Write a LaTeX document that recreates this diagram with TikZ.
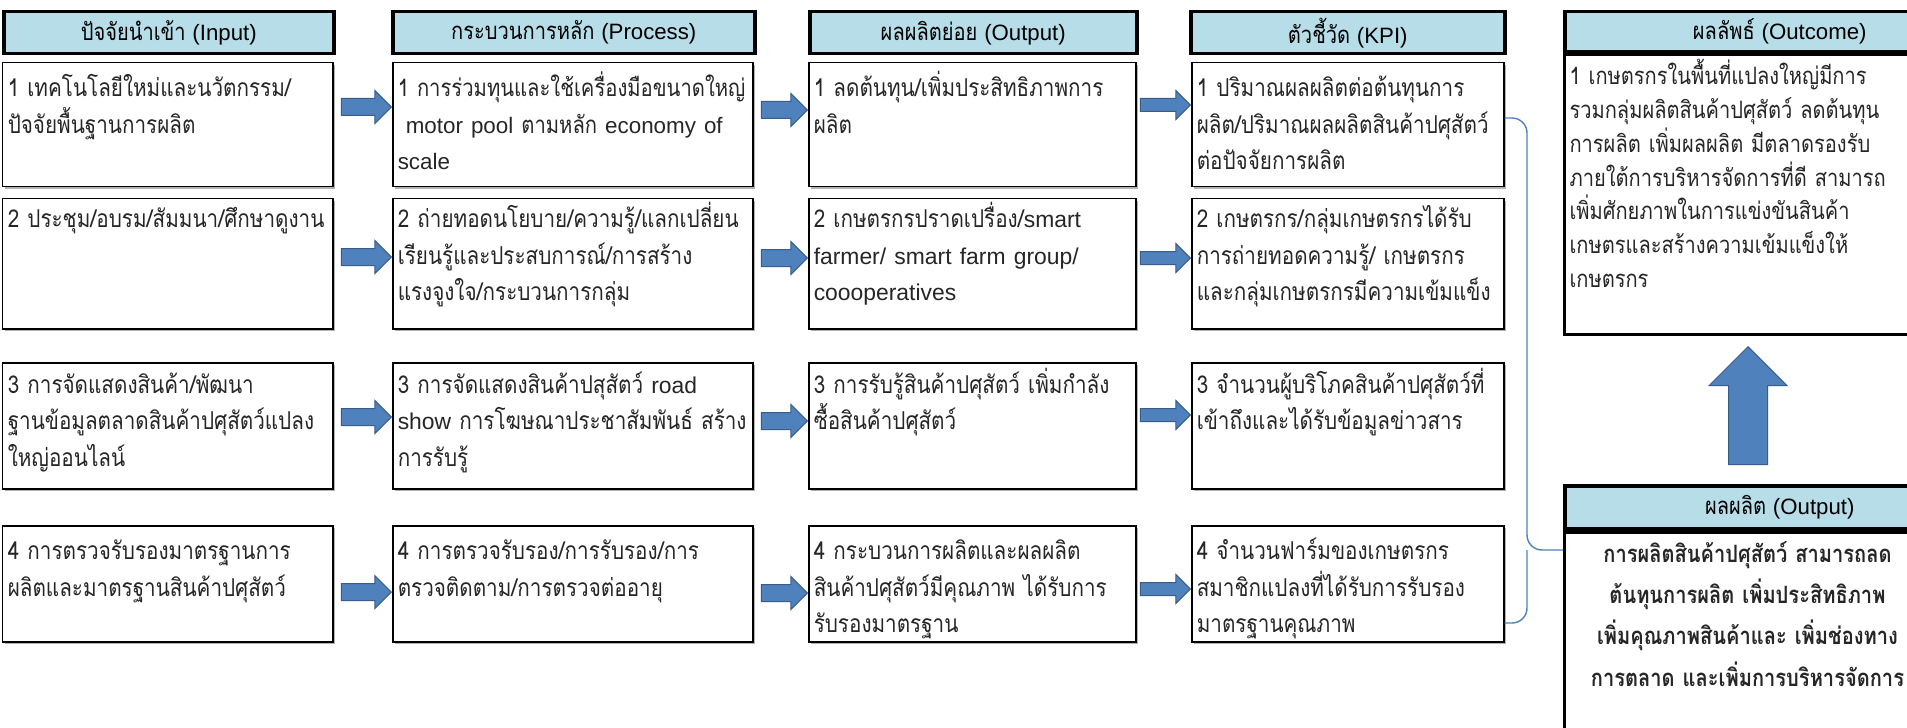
\documentclass[tikz,border=0pt]{standalone}
\usepackage{fontspec}
\setmainfont[Script=Thai, FakeStretch=0.84]{Loma}
\newfontfamily\engfont[Scale=0.93]{Liberation Sans}
\newcommand{\engtxt}[1]{{\engfont #1}}
\hyphenpenalty=10000
\exhyphenpenalty=10000
\usetikzlibrary{shapes.arrows,shadows}

\definecolor{hdrblue}{HTML}{B7DDE8}
\definecolor{arrfill}{HTML}{4F81BD}
\definecolor{arrline}{HTML}{385D8A}
\definecolor{bracecol}{HTML}{4F81BD}

\tikzset{
  hdr/.style={draw, line width=0.35mm, fill=hdrblue, anchor=north west,
    minimum height=4.2mm, inner sep=0pt, text=black,
    font=\fontsize{6.8}{8}\selectfont},
  box/.style 2 args={draw, line width=0.15mm, fill=white, anchor=north west,
    align=left, inner xsep=0.5mm, inner ysep=0.3mm, text height=#1,
    text depth=#2, text=black!85, font=\fontsize{7}{10.4}\selectfont,
    drop shadow={shadow xshift=0.2mm, shadow yshift=-0.2mm, opacity=0.6}},
  obox/.style={draw, line width=0.3mm, fill=white, anchor=north west,
    inner xsep=0.5mm, inner ysep=0.3mm, text height=2.7mm, text=black!85},
  barrow/.style={single arrow, draw=arrline, fill=arrfill, line width=0.1mm,
    inner xsep=0pt, inner ysep=#1, single arrow head extend=0.8mm,
    anchor=tip},
  bline/.style={draw=bracecol, line width=0.14mm, rounded corners=1.5mm},
}

\begin{document}
\begin{tikzpicture}[x=0.1mm, y=-0.1mm]
    \path[use as bounding box, fill=white] (0,0) rectangle (1907,727);

    % Column headers
    \node[hdr, minimum width=33mm] (inH) at (2,10) {ปัจจัยนำเข้า \engtxt{(Input)}};
    \node[hdr, minimum width=36.2mm] (prH) at (391,10) {กระบวนการหลัก \engtxt{(Process)}};
    \node[hdr, minimum width=32.7mm] (ouH) at (808,10) {ผลผลิตย่อย \engtxt{(Output)}};
    \node[hdr, minimum width=31.4mm] (kpH) at (1189,10) {ตัวชี้วัด \engtxt{(KPI)}};

    % Row 1
    \node[box={3.1mm}{8.7mm}, text width=32mm] (in1) at (2,62)
      {1~เทคโนโลยีใหม่และนวัตกรรม/\\ปัจจัยพื้นฐานการผลิต};
    \node[box={3.1mm}{8.7mm}, text width=35mm, font=\fontsize{6.85}{10.4}\selectfont] (pr1) at (392,62)
      {1~การร่วมทุนและใช้เครื่องมือขนาดใหญ่\\\ \engtxt{motor~pool}~ตามหลัก~\engtxt{economy~of}\\\engtxt{scale}};
    \node[box={3.1mm}{8.7mm}, text width=31.7mm] (ou1) at (808,62)
      {1~ลดต้นทุน/เพิ่มประสิทธิภาพการ\\ผลิต};
    \node[box={3.1mm}{8.7mm}, text width=30.2mm] (kp1) at (1191,62)
      {1~ปริมาณผลผลิตต่อต้นทุนการ\\ผลิต/ปริมาณผลผลิตสินค้าปศุสัตว์\\ต่อปัจจัยการผลิต};

    % Row 2
    \node[box={2.6mm}{9.8mm}, text width=32mm] (in2) at (2,198)
      {2~ประชุม/อบรม/สัมมนา/ศึกษาดูงาน};
    \node[box={2.6mm}{9.8mm}, text width=35mm] (pr2) at (392,198)
      {2~ถ่ายทอดนโยบาย/ความรู้/แลกเปลี่ยน\\เรียนรู้และประสบการณ์/การสร้าง\\แรงจูงใจ/กระบวนการกลุ่ม};
    \node[box={2.6mm}{9.8mm}, text width=31.7mm] (ou2) at (808,198)
      {2~เกษตรกรปราดเปรื่อง/\engtxt{smart}\\\engtxt{farmer/~smart~farm~group/}\\\engtxt{coooperatives}};
    \node[box={2.6mm}{9.8mm}, text width=30.2mm] (kp2) at (1191,198)
      {2~เกษตรกร/กลุ่มเกษตรกรได้รับ\\การถ่ายทอดความรู้/~เกษตรกร\\และกลุ่มเกษตรกรมีความเข้มแข็ง};

    % Row 3
    \node[box={2.75mm}{9.25mm}, text width=32mm] (in3) at (2,362)
      {3~การจัดแสดงสินค้า/พัฒนา\\ฐานข้อมูลตลาดสินค้าปศุสัตว์แปลง\\ใหญ่ออนไลน์};
    \node[box={2.75mm}{9.25mm}, text width=35mm] (pr3) at (392,362)
      {3~การจัดแสดงสินค้าปสุสัตว์~\engtxt{road}\\\engtxt{show}~การโฆษณาประชาสัมพันธ์~สร้าง\\การรับรู้};
    \node[box={2.75mm}{9.25mm}, text width=31.7mm] (ou3) at (808,362)
      {3~การรับรู้สินค้าปศุสัตว์~เพิ่มกำลัง\\ซื้อสินค้าปศุสัตว์};
    \node[box={2.75mm}{9.25mm}, text width=30.2mm] (kp3) at (1191,362)
      {3~จำนวนผู้บริโภคสินค้าปศุสัตว์ที่\\เข้าถึงและได้รับข้อมูลข่าวสาร};

    % Row 4
    \node[box={3.1mm}{7.9mm}, text width=32mm] (in4) at (2,525)
      {4~การตรวจรับรองมาตรฐานการ\\ผลิตและมาตรฐานสินค้าปศุสัตว์};
    \node[box={3.1mm}{7.9mm}, text width=35mm] (pr4) at (392,525)
      {4~การตรวจรับรอง/การรับรอง/การ\\ตรวจติดตาม/การตรวจต่ออายุ};
    \node[box={3.1mm}{7.9mm}, text width=31.7mm] (ou4) at (808,525)
      {4~กระบวนการผลิตและผลผลิต\\สินค้าปศุสัตว์มีคุณภาพ~ได้รับการ\\รับรองมาตรฐาน};
    \node[box={3.1mm}{7.9mm}, text width=30.2mm] (kp4) at (1191,525)
      {4~จำนวนฟาร์มของเกษตรกร\\สมาชิกแปลงที่ได้รับการรับรอง\\มาตรฐานคุณภาพ};

    % Block arrows between the columns
    \foreach \r/\ya/\yb/\yc in {1/107/110/105, 2/257/258/258, 3/417/421/415, 4/592/593/589}
    {
      \node[barrow=0.8mm, minimum height=5mm] (ap\r) at (pr\r.west |- 0,\ya) {};
      \node[barrow=0.8mm, minimum height=4.6mm] (ao\r) at (ou\r.west |- 0,\yb) {};
      \node[barrow=0.6mm, minimum height=5mm] (ak\r) at (kp\r.west |- 0,\yc) {};
    }

    % Right column: outcome and output
    \node[hdr, minimum width=43mm, minimum height=4mm] (ocH) at (1563,10) {ผลลัพธ์ \engtxt{(Outcome)}};
    \node[obox, align=left, text width=41.5mm, text depth=24.7mm,
      font=\fontsize{6.8}{9.6}\selectfont] (ocB) at (ocH.south west)
      {1~เกษตรกรในพื้นที่แปลงใหญ่มีการ\\รวมกลุ่มผลิตสินค้าปศุสัตว์~ลดต้นทุน\\การผลิต~เพิ่มผลผลิต~มีตลาดรองรับ\\ภายใต้การบริหารจัดการที่ดี~สามารถ\\เพิ่มศักยภาพในการแข่งขันสินค้า\\เกษตรและสร้างความเข้มแข็งให้\\เกษตรกร};

    \node[hdr, minimum width=43mm, minimum height=4.3mm] (opH) at (1563,484) {ผลผลิต \engtxt{(Output)}};
    \node[obox, align=center, text width=35.6mm, text depth=30mm,
      font=\bfseries\fontsize{6.8}{11.8}\selectfont] (opB) at (opH.south west)
      {การผลิตสินค้าปศุสัตว์~สามารถลด\\ต้นทุนการผลิต~เพิ่มประสิทธิภาพ\\เพิ่มคุณภาพสินค้าและ~เพิ่มช่องทาง\\การตลาด~และเพิ่มการบริหารจัดการ};

    \node[barrow=1.9mm, single arrow head extend=1.95mm, minimum height=11.8mm,
      rotate=90] (up) at (1748,346) {};

    % Brace from the KPI column to the output
    \draw[bline] (kp1.east |- 0,118) -| (1527,550) -- (opB.west |- 0,550);
    \draw[bline] (kp4.east |- 0,623) -| (1527,550);
  \end{tikzpicture}
\end{document}
